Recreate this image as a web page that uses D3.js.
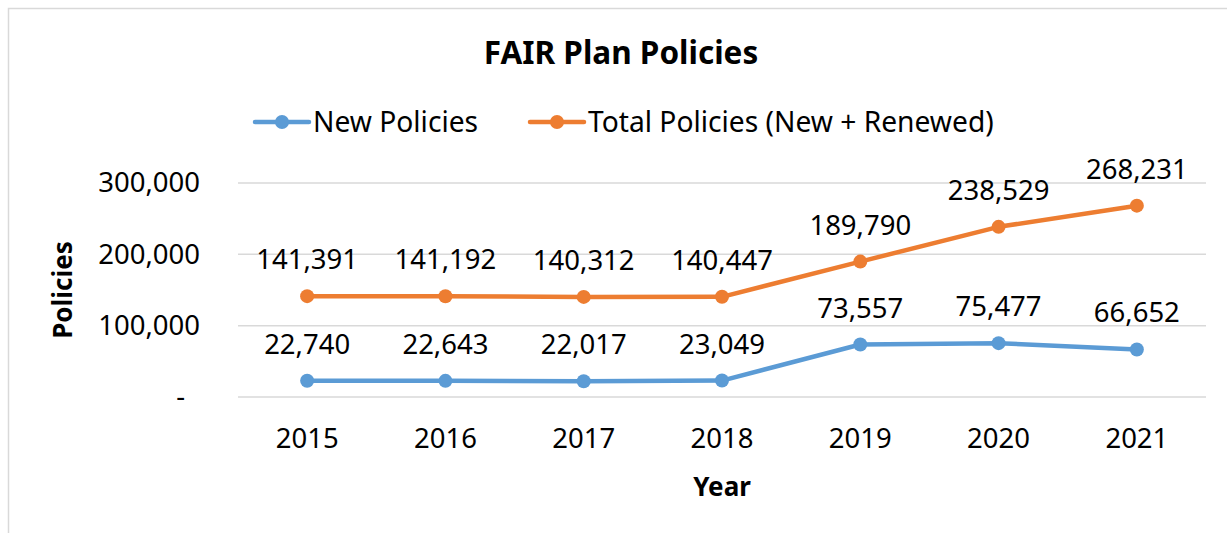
<!DOCTYPE html>
<html>
<head>
<meta charset="UTF-8">
<title>FAIR Plan Policies</title>
<style>
  body { margin: 0; background: #fff; }
  text { font-family: "Noto Sans", "Open Sans", sans-serif; fill: #000; }
</style>
</head>
<body>
<div id="chart"></div>
<script src="https://d3js.org/d3.v7.min.js"></script>
<script>
// data
var years = ["2015", "2016", "2017", "2018", "2019", "2020", "2021"];
var newPolicies = [22740, 22643, 22017, 23049, 73557, 75477, 66652];
var totalPolicies = [141391, 141192, 140312, 140447, 189790, 238529, 268231];
var yTicks = [0, 100000, 200000, 300000];
var seriesNames = ["New Policies", "Total Policies (New + Renewed)"];
var colors = ["#5B9BD5", "#ED7D31"];

var width = 1227, height = 533;
var plot = { left: 238, right: 1206, top: 183, bottom: 397 };

var svg = d3.select("#chart").append("svg")
  .attr("width", width)
  .attr("height", height);

// outer border
svg.append("rect")
  .attr("x", 8.5).attr("y", 8.5)
  .attr("width", width + 10).attr("height", height + 10)
  .attr("fill", "none")
  .attr("stroke", "#d9d9d9")
  .attr("stroke-width", 1.5);

var x = d3.scaleBand().domain(years).range([plot.left, plot.right]);
var y = d3.scaleLinear().domain([0, 300000]).range([plot.bottom, plot.top]);

// gridlines
svg.append("g").selectAll("line")
  .data(yTicks)
  .join("line")
  .attr("x1", plot.left).attr("x2", plot.right)
  .attr("y1", function(d) { return y(d); })
  .attr("y2", function(d) { return y(d); })
  .attr("stroke", "#d9d9d9")
  .attr("stroke-width", 1.5);

// y axis labels
var fmt = d3.format(",");
var yAxis = d3.axisLeft(y)
  .tickValues(yTicks)
  .tickSize(0)
  .tickPadding(0)
  .tickFormat(function(d) { return d === 0 ? "-" : fmt(d); });
var gy = svg.append("g")
  .attr("transform", "translate(200,0)")
  .call(yAxis);
gy.select(".domain").remove();
gy.selectAll("text")
  .attr("font-size", "27.5px")
  .attr("font-family", "Noto Sans")
  .attr("fill", "#000")
  .attr("dx", function(d) { return d === 0 ? "-15px" : 0; });

// x axis labels
var xAxis = d3.axisBottom(x).tickSize(0).tickPadding(0);
var gx = svg.append("g")
  .attr("transform", "translate(0,428)")
  .call(xAxis);
gx.select(".domain").remove();
gx.selectAll("text")
  .attr("font-size", "27.5px")
  .attr("font-family", "Noto Sans")
  .attr("fill", "#000");

// lines
var seriesData = [newPolicies, totalPolicies];
var line = d3.line()
  .x(function(d, i) { return x(years[i]) + x.bandwidth() / 2; })
  .y(function(d) { return y(d); });

seriesData.forEach(function(values, s) {
  var g = svg.append("g");
  g.append("path")
    .datum(values)
    .attr("d", line)
    .attr("fill", "none")
    .attr("stroke", colors[s])
    .attr("stroke-width", 4.5)
    .attr("stroke-linejoin", "round")
    .attr("stroke-linecap", "round");
  g.selectAll("circle")
    .data(values)
    .join("circle")
    .attr("cx", function(d, i) { return x(years[i]) + x.bandwidth() / 2; })
    .attr("cy", function(d) { return y(d); })
    .attr("r", 7)
    .attr("fill", colors[s]);
  g.selectAll("text.lbl")
    .data(values)
    .join("text")
    .attr("class", "lbl")
    .attr("x", function(d, i) { return x(years[i]) + x.bandwidth() / 2; })
    .attr("y", function(d) { return y(d) - 27; })
    .attr("text-anchor", "middle")
    .attr("font-size", "27.5px")
    .text(function(d) { return fmt(d); });
});

// title
svg.append("text")
  .attr("x", 621).attr("y", 64)
  .attr("text-anchor", "middle")
  .attr("font-size", "31.5px")
  .attr("font-weight", "bold")
  .text("FAIR Plan Policies");

// legend
var legendX = [255, 530];
seriesNames.forEach(function(name, s) {
  var lg = svg.append("g").attr("transform", "translate(" + legendX[s] + ",122)");
  lg.append("line")
    .attr("x1", 0).attr("x2", 54)
    .attr("stroke", colors[s])
    .attr("stroke-width", 4.5)
    .attr("stroke-linecap", "round");
  lg.append("circle")
    .attr("cx", 27).attr("r", 7)
    .attr("fill", colors[s]);
  lg.append("text")
    .attr("x", 58).attr("y", 10)
    .attr("font-size", "28.2px")
    .text(name);
});

// axis titles
svg.append("text")
  .attr("transform", "translate(72,290) rotate(-90)")
  .attr("text-anchor", "middle")
  .attr("font-size", "26px")
  .attr("font-weight", "bold")
  .text("Policies");

svg.append("text")
  .attr("x", 722).attr("y", 496)
  .attr("text-anchor", "middle")
  .attr("font-size", "26px")
  .attr("font-weight", "bold")
  .text("Year");
</script>
</body>
</html>
